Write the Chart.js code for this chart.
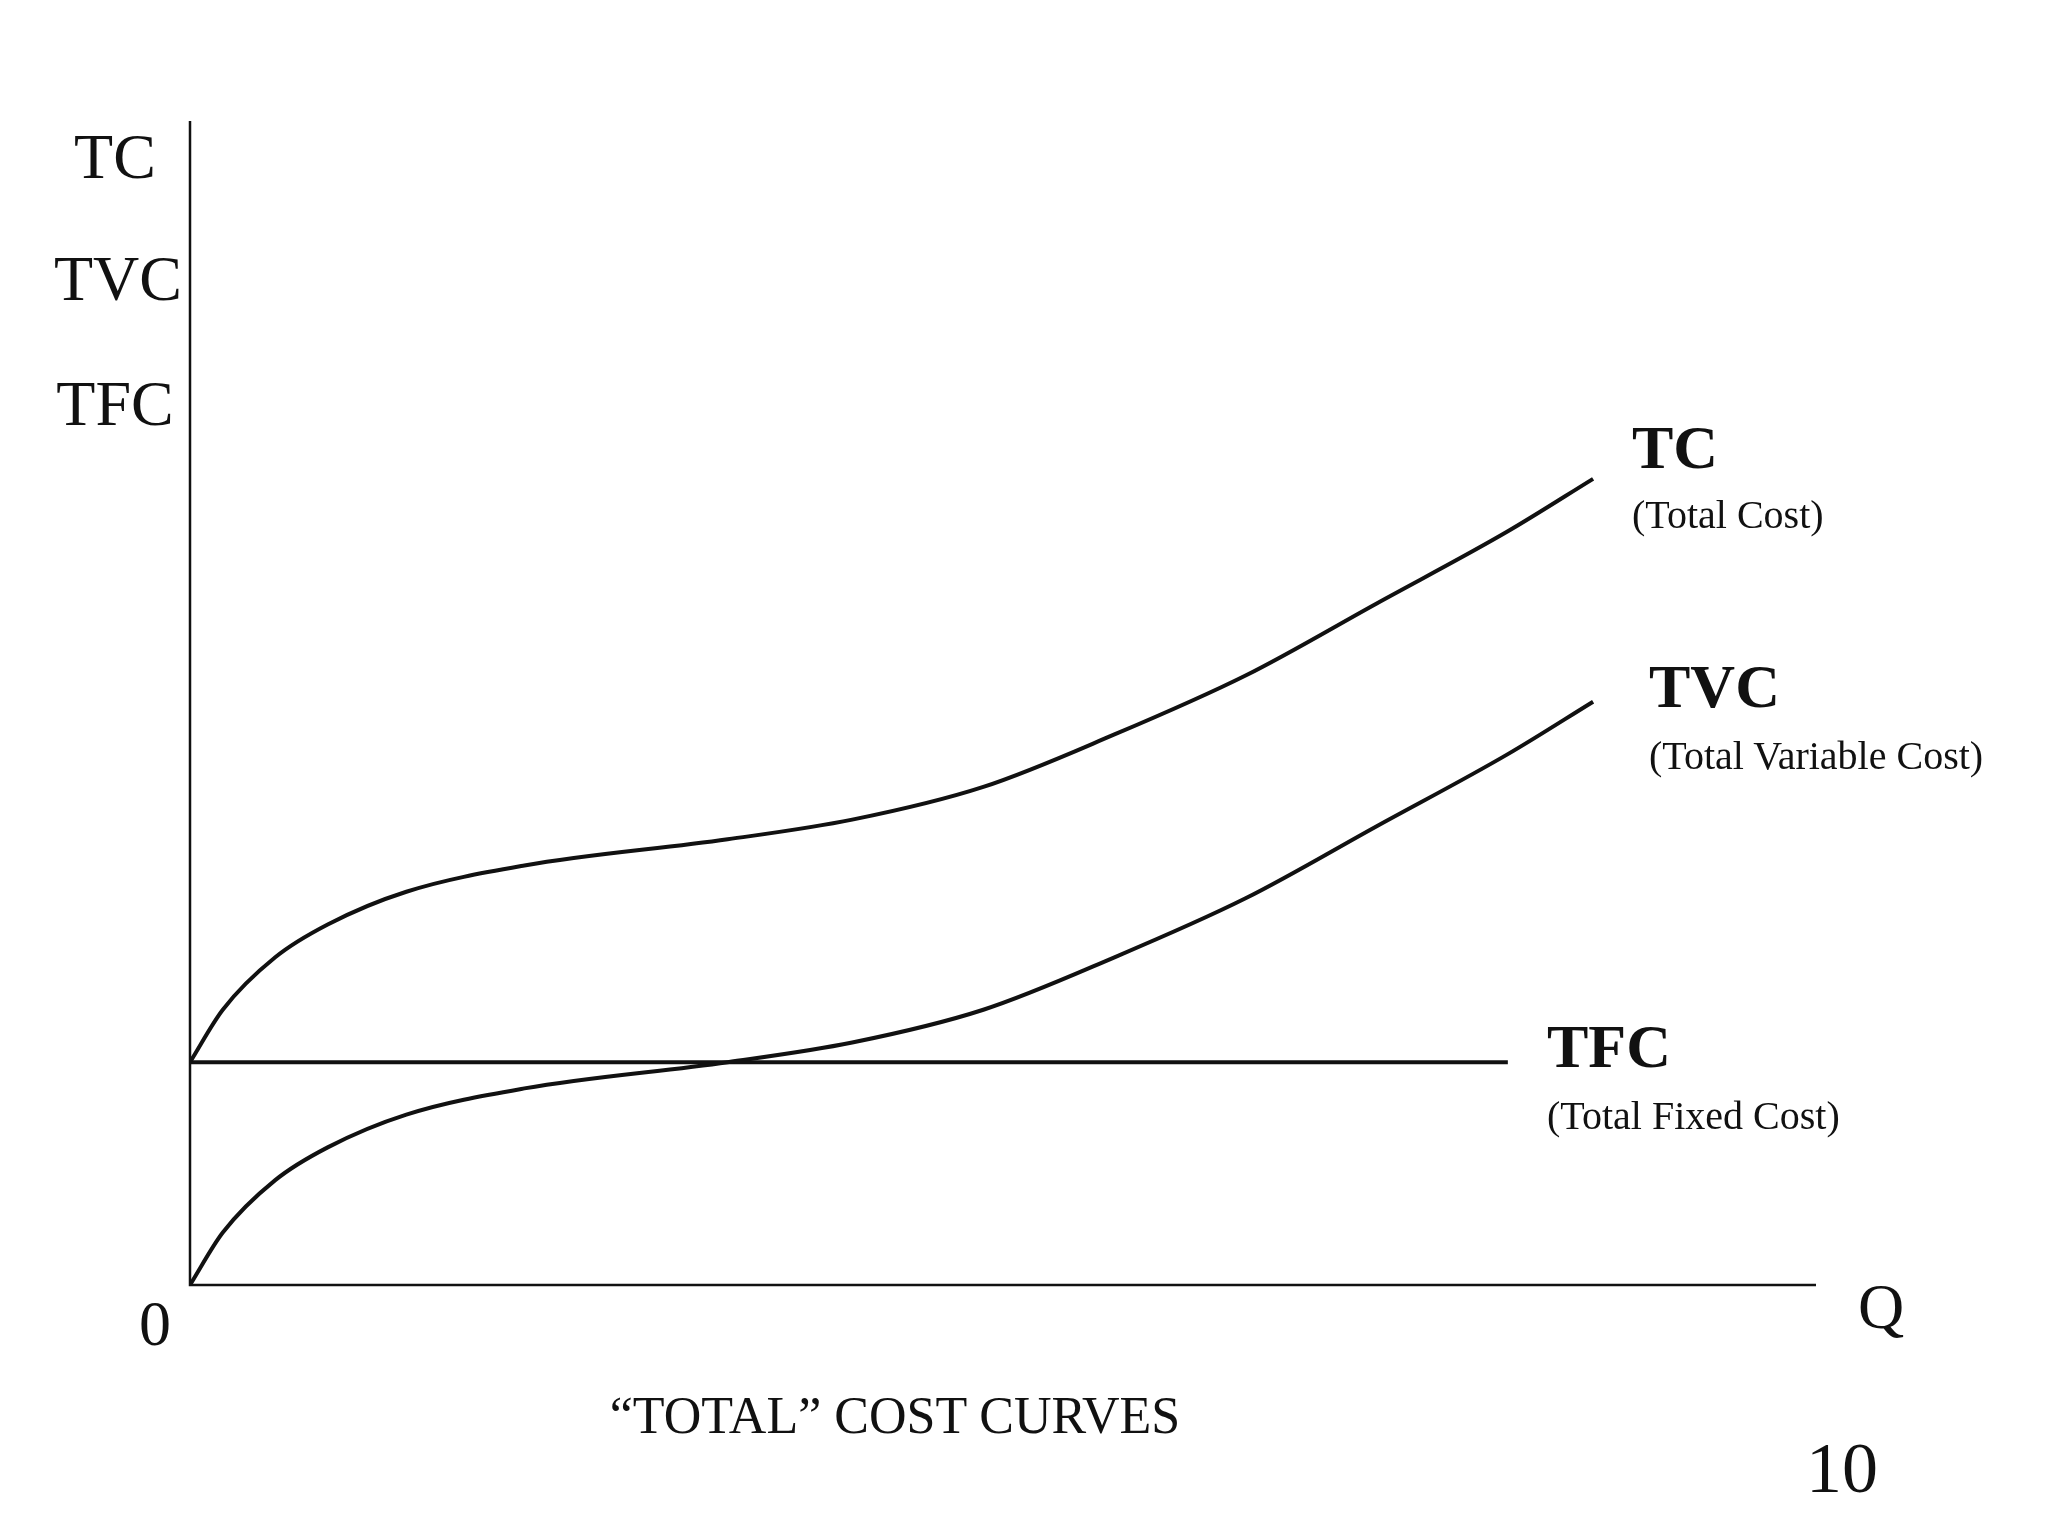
<!DOCTYPE html>
<html>
<head>
<meta charset="utf-8">
<script src="https://cdn.jsdelivr.net/npm/chart.js@4"></script>
<style>
  html, body { margin: 0; padding: 0; background: #fff; }
  #wrap { position: relative; width: 2048px; height: 1536px; font-family: "Liberation Serif", "DejaVu Serif", serif; color: #111; }
  .lbl { position: absolute; transform: translateY(-50%); white-space: nowrap; line-height: 1; }
  .c { transform: translate(-50%, -50%); }
  .big { font-size: 64px; }
  .bold { font-size: 62px; font-weight: bold; }
  .sub { font-size: 40px; }
</style>
</head>
<body>
<div id="wrap">
  <canvas id="chart" width="2048" height="1536"></canvas>
  <div class="lbl c big" style="left:115px;top:157px">TC</div>
  <div class="lbl c big" style="left:118px;top:279px">TVC</div>
  <div class="lbl c big" style="left:115px;top:404px">TFC</div>
  <div class="lbl c big" style="left:155px;top:1324px">0</div>
  <div class="lbl c big" style="left:1881px;top:1307px">Q</div>
  <div class="lbl c" style="left:895px;top:1416px;font-size:52px">“TOTAL” COST CURVES</div>
  <div class="lbl c" style="left:1842px;top:1468px;font-size:72px">10</div>
  <div class="lbl bold" style="left:1632px;top:447px">TC</div>
  <div class="lbl sub" style="left:1632px;top:515px">(Total Cost)</div>
  <div class="lbl bold" style="left:1649px;top:686px">TVC</div>
  <div class="lbl sub" style="left:1649px;top:756px">(Total Variable Cost)</div>
  <div class="lbl bold" style="left:1547px;top:1046px">TFC</div>
  <div class="lbl sub" style="left:1547px;top:1116px">(Total Fixed Cost)</div>
</div>
<script>
// quantities and cost levels (arbitrary units)
const quantity = [0, 25, 65, 105, 165, 255, 410, 505, 605, 705, 805, 905, 1005, 1070];
const tvc = [0, 40, 80, 105, 130, 150, 170, 185, 210, 250, 295, 350, 405, 445];
const fixedCost = 170;
const tfcEnd = 1005;
const tc = tvc.map(v => v + fixedCost);

const pts = (xs, ys) => xs.map((x, i) => ({ x: x, y: ys[i] }));

const axesPlugin = {
  id: 'axes',
  afterDraw(chart) {
    const { ctx, chartArea: a } = chart;
    ctx.save();
    ctx.strokeStyle = '#111';
    ctx.lineWidth = 2.5;
    ctx.beginPath();
    ctx.moveTo(a.left, a.top);
    ctx.lineTo(a.left, a.bottom);
    ctx.lineTo(a.right, a.bottom);
    ctx.stroke();
    ctx.restore();
  }
};

new Chart(document.getElementById('chart').getContext('2d'), {
  type: 'line',
  data: {
    datasets: [
      { data: pts(quantity, tc), borderColor: '#111', borderWidth: 4, pointRadius: 0, cubicInterpolationMode: 'monotone' },
      { data: pts(quantity, tvc), borderColor: '#111', borderWidth: 4, pointRadius: 0, cubicInterpolationMode: 'monotone' },
      { data: [{ x: 0, y: fixedCost }, { x: tfcEnd, y: fixedCost }], borderColor: '#111', borderWidth: 4, pointRadius: 0 }
    ]
  },
  options: {
    responsive: false,
    animation: false,
    layout: { padding: { left: 190, right: 232, top: 121, bottom: 251 } },
    plugins: { legend: { display: false }, tooltip: { enabled: false } },
    scales: {
      x: { type: 'linear', min: 0, max: 1240, display: false },
      y: { min: 0, max: 888, display: false }
    }
  },
  plugins: [axesPlugin]
});
</script>
</body>
</html>
